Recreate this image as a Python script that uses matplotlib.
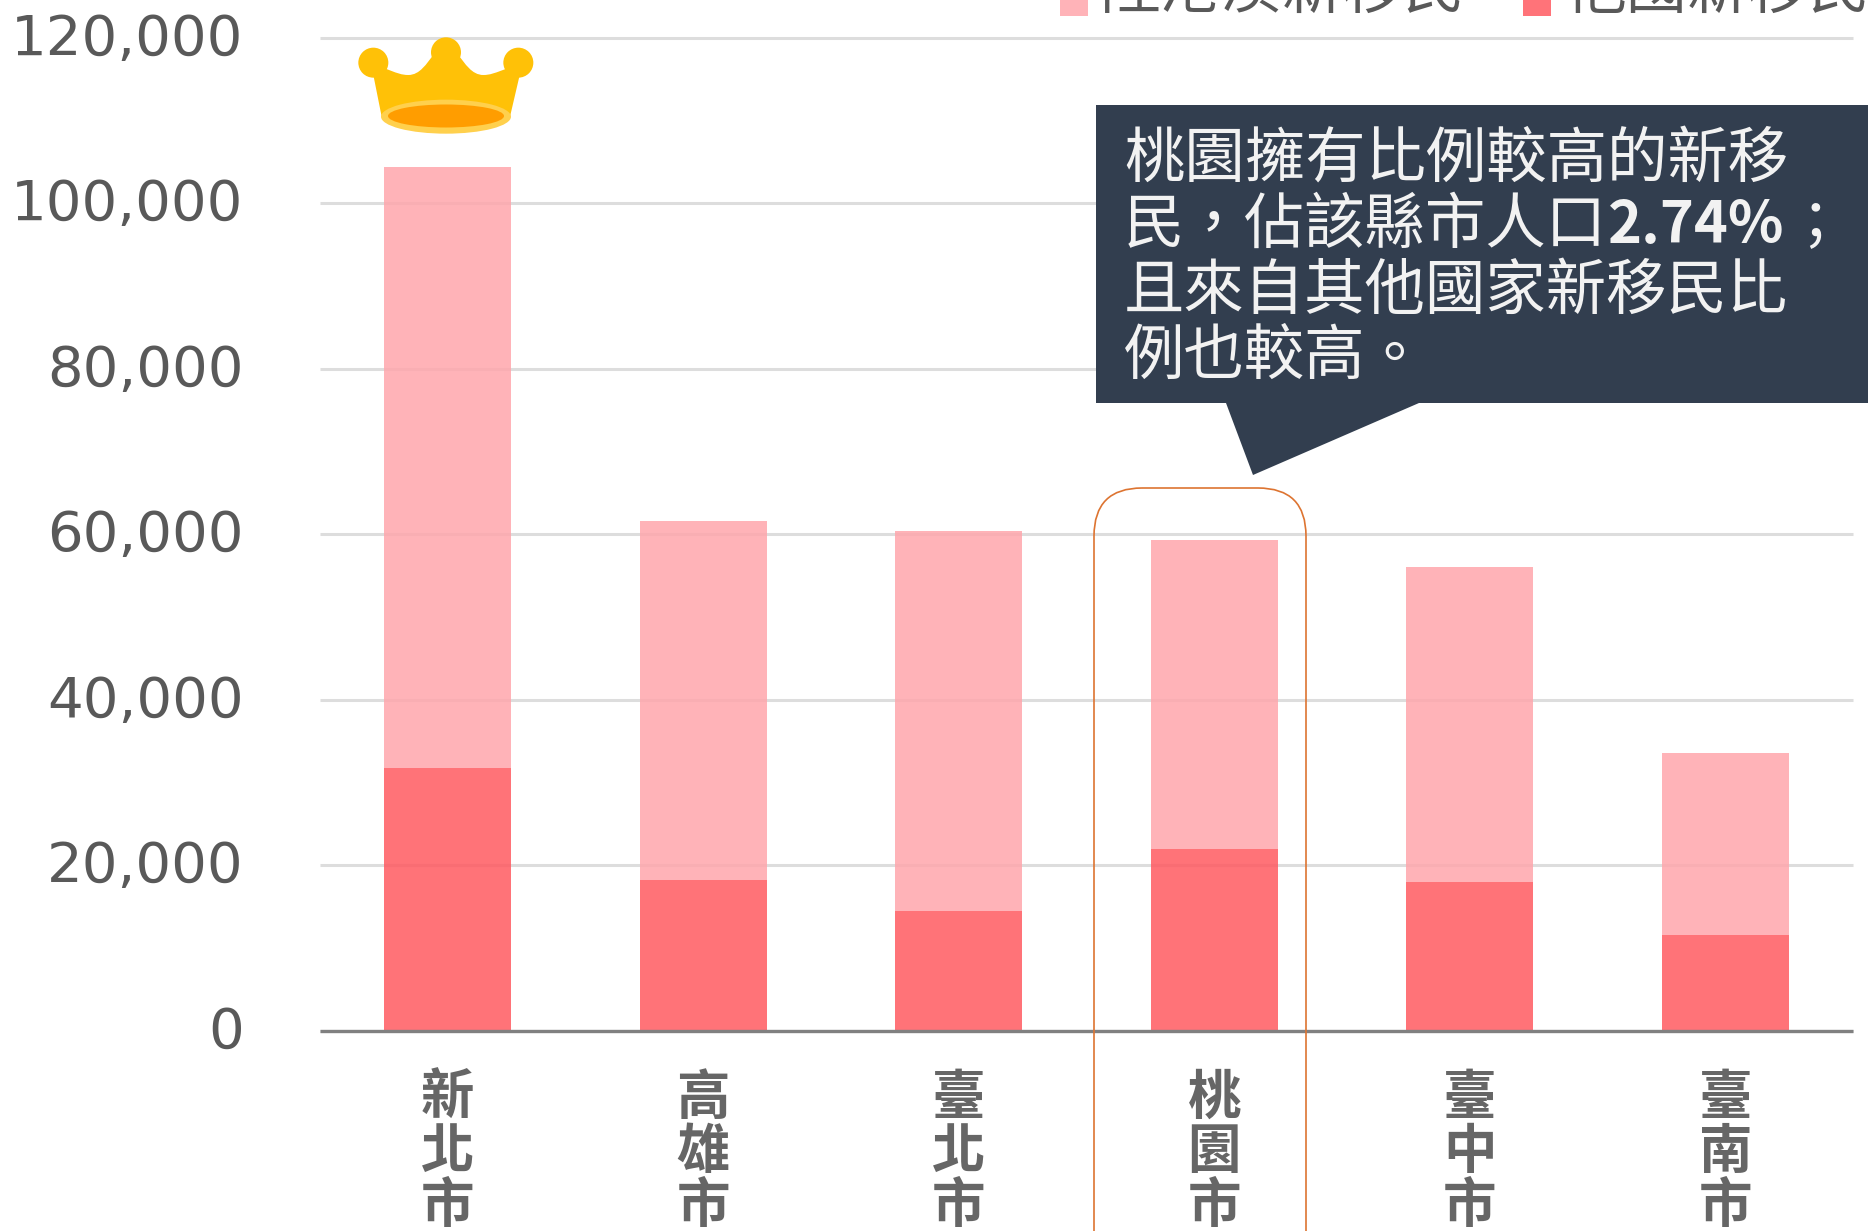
import matplotlib
matplotlib.use("Agg")
import matplotlib.pyplot as plt
from matplotlib.patches import Rectangle, Polygon, Circle, Ellipse, FancyBboxPatch, PathPatch
from matplotlib.path import Path
from matplotlib.ticker import FuncFormatter
from matplotlib.transforms import ScaledTranslation

CJK = ['Noto Sans CJK TC', 'DejaVu Sans']

cities = ['新北市', '高雄市', '臺北市', '桃園市', '臺中市', '臺南市']
other_countries = [31700, 18150, 14400, 21900, 18000, 11500]
china_hk_macao = [72700, 43400, 45950, 37450, 38050, 22100]
series_names = ['陸港澳新移民', '他國新移民']
y_ticks = [0, 20000, 40000, 60000, 80000, 100000, 120000]
callout_lines = ['桃園擁有比例較高的新移', '民，佔該縣市人口', '且來自其他國家新移民比', '例也較高。']
callout_pct = '2.74%'
callout_tail = '；'

W, H = 1868, 1231
fig = plt.figure(figsize=(W / 100, H / 100), dpi=100, facecolor='white')
ax = fig.add_axes([320 / W, 1 - 1030.5 / H, (1853 - 320) / W, (1030.5 - 38) / H])

x = list(range(len(cities)))
LIGHT, DARK = '#FFA6AC', '#FF5A61'
ax.bar(x, other_countries, width=0.497, color=DARK, alpha=0.85, zorder=3, linewidth=0)
ax.bar(x, china_hk_macao, bottom=other_countries, width=0.497, color=LIGHT, alpha=0.85, zorder=3, linewidth=0)

ax.set_xlim(-0.5, 5.5)
ax.set_ylim(0, 120000)
ax.set_yticks(y_ticks)
ax.yaxis.set_major_formatter(FuncFormatter(lambda v, _: f'{int(v):,}'))
ax.tick_params(axis='y', length=0, pad=55, labelsize=40.4, labelcolor='#595959')
up = ScaledTranslation(0, 4 / 100, fig.dpi_scale_trans)
for lab in ax.get_yticklabels():
    lab.set_transform(lab.get_transform() + up)
ax.set_xticks(x)
ax.set_xticklabels(['\n'.join(c) for c in cities], family=CJK, fontsize=38.5,
                   color='#666666', linespacing=0.985, fontweight='bold')
ax.tick_params(axis='x', length=0, pad=29)
ax.grid(axis='y', color='#DDDDDD', linewidth=2.2, zorder=1, clip_on=False)
ax.set_axisbelow(True)
for s in ['top', 'right', 'left']:
    ax.spines[s].set_visible(False)
ax.spines['bottom'].set_color('#808080')
ax.spines['bottom'].set_linewidth(2.4)
ax.spines['bottom'].set_zorder(4)
ax.spines['bottom'].set_capstyle('butt')
for line in ax.yaxis.get_gridlines():
    line.set_clip_on(False)
    line.set_solid_capstyle('butt')

# overlay in pixel coordinates for decorations
ov = fig.add_axes([0, 0, 1, 1], facecolor='none')
ov.set_xlim(0, W)
ov.set_ylim(H, 0)
ov.axis('off')

# callout
NAVY = '#323E4F'
ov.add_patch(Polygon([(1096, 105), (W + 5, 105), (W + 5, 403), (1419, 403), (1253, 475),
                      (1226, 403), (1096, 403)], closed=True, facecolor=NAVY, edgecolor='none', zorder=5))
line_y = [159.5, 225.5, 291.5, 356.5]
for txt, yy in zip(callout_lines, line_y):
    ov.text(1124, yy, txt, family=CJK, fontsize=43.5, color='#F2F2F2', va='center', ha='left', zorder=6)
ov.text(1608, line_y[1], callout_pct, family=CJK, fontsize=41.5, color='#F2F2F2', fontweight='bold',
        va='center', ha='left', zorder=6)
ov.text(1786, line_y[1], callout_tail, family=CJK, fontsize=41.5, color='#F2F2F2', va='center', ha='left', zorder=6)

# highlight
R = 48
ov.add_patch(FancyBboxPatch((1094 + R, 488 + R), 212 - 2 * R, 900,
                            boxstyle=f'round,pad={R},rounding_size={R}', facecolor='none',
                            edgecolor='#DD7431', linewidth=1.2, zorder=6, clip_on=True))

# legend
ov.add_patch(Rectangle((1060, -5), 27.5, 21, facecolor='#FFB3B8', edgecolor='none'))
ov.add_patch(Rectangle((1523, -5), 27.5, 21, facecolor='#FF7379', edgecolor='none'))
ov.text(1100, 8, series_names[0], family=CJK, fontsize=43.8, color='#595959', va='baseline', ha='left')
ov.text(1566, 8, series_names[1], family=CJK, fontsize=43.8, color='#595959', va='baseline', ha='left')

# crown
def P(X, Y):
    return (340 + X / 3, 20 + Y / 3)

GOLD = '#FFC107'
verts = [P(95, 140), P(125, 290), P(510, 290), P(545, 140),
         P(490, 140), P(470, 165), P(430, 165),
         P(395, 165), P(375, 130), P(355, 105),
         P(280, 105),
         P(260, 130), P(240, 165), P(205, 165),
         P(165, 165), P(145, 140), P(95, 140), P(95, 140)]
codes = [Path.MOVETO, Path.LINETO, Path.LINETO, Path.LINETO,
         Path.CURVE4, Path.CURVE4, Path.CURVE4,
         Path.CURVE4, Path.CURVE4, Path.CURVE4,
         Path.LINETO,
         Path.CURVE4, Path.CURVE4, Path.CURVE4,
         Path.CURVE4, Path.CURVE4, Path.CURVE4, Path.CLOSEPOLY]
ov.add_patch(PathPatch(Path(verts, codes), facecolor=GOLD, edgecolor='none', zorder=6))
for cx, cy in [(100, 128), (318, 97), (535, 128)]:
    ov.add_patch(Circle(P(cx, cy), 15, facecolor=GOLD, edgecolor='none', zorder=6))
ov.add_patch(Ellipse(P(318, 290), 130, 34, facecolor='#FFD04D', edgecolor='none', zorder=7))
ov.add_patch(Ellipse(P(318, 288), 116, 23, facecolor='#FF9D00', edgecolor='none', zorder=8))

fig.savefig('out.png', dpi=100, facecolor='white')
